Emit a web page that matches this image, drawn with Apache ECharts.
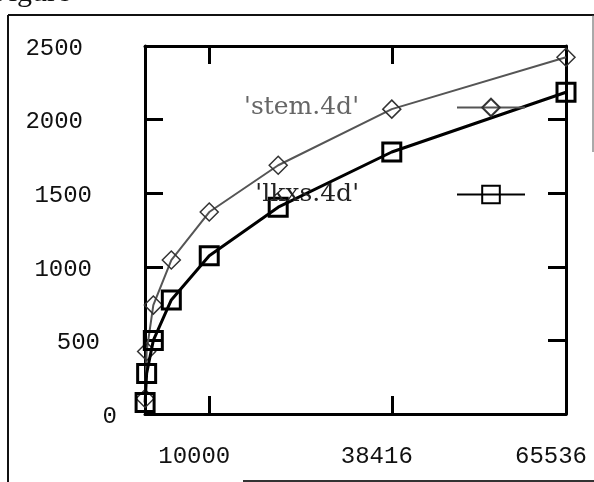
<!DOCTYPE html>
<html>
<head>
<meta charset="utf-8">
<script src="https://cdn.jsdelivr.net/npm/echarts@6/dist/echarts.min.js"></script>
<style>
  html, body { margin: 0; padding: 0; background: #fff; }
  #chart { width: 594px; height: 482px; }
</style>
</head>
<body>
<div id="chart"></div>
<script>
// problem sizes (n^4) and timings
const sizes = [16, 256, 1296, 4096, 10000, 20736, 38416, 65536];
const stemValues = [105, 425, 740, 1046, 1372, 1690, 2071, 2424];
const lkxsValues = [78, 275, 500, 775, 1075, 1405, 1780, 2186];
const xTicks = [10000, 38416, 65536];
const seriesNames = ["'stem.4d'", "'lkxs.4d'"];

// the scanned y labels are not right-aligned, shift each one by hand
const yLabelPad = { 0: 0, 500: 17, 1000: 25, 1500: 25, 2000: 34, 2500: 34 };

const chart = echarts.init(document.getElementById('chart'));

const tickFont = {
  fontFamily: 'Liberation Mono',
  fontSize: 24,
  color: '#111',
};

const rich = {};
Object.values(yLabelPad).forEach((p) => {
  rich['p' + p] = { ...tickFont, padding: [5, p, 0, 0] };
});

const frameLine = { show: true, onZero: false, lineStyle: { color: '#000', width: 3 } };
const innerTick = { show: true, inside: true, length: 18, lineStyle: { color: '#000', width: 3 } };

const legendBase = {
  right: 68,
  padding: 0,
  align: 'right',
  itemWidth: 68,
  itemHeight: 22,
  textStyle: { fontFamily: 'DejaVu Serif', fontSize: 25, padding: [0, 93, 0, 0] },
};

const option = {
  animation: false,
  backgroundColor: '#fff',
  grid: { left: 145, right: 28, top: 46, bottom: 68 },
  legend: [
    { ...legendBase, top: 95, data: [{ name: seriesNames[0], textStyle: { color: '#666' } }] },
    { ...legendBase, top: 182, data: [{ name: seriesNames[1], textStyle: { color: '#222' } }] },
  ],
  xAxis: [
    {
      type: 'value',
      min: 0,
      max: 65536,
      axisLine: frameLine,
      axisTick: { ...innerTick, customValues: xTicks },
      axisLabel: {
        ...tickFont,
        customValues: xTicks,
        margin: 31,
        padding: [0, 30, 0, 0],
        formatter: (v) => String(v),
      },
      splitLine: { show: false },
    },
    {
      type: 'value',
      position: 'top',
      min: 0,
      max: 65536,
      axisLine: frameLine,
      axisTick: { ...innerTick, customValues: xTicks },
      axisLabel: { show: false },
      splitLine: { show: false },
    },
  ],
  yAxis: [
    {
      type: 'value',
      min: 0,
      max: 2500,
      interval: 500,
      axisLine: frameLine,
      axisTick: innerTick,
      axisLabel: {
        margin: 28,
        formatter: (v) => '{p' + yLabelPad[v] + '|' + v + '}',
        rich,
      },
      splitLine: { show: false },
    },
    {
      type: 'value',
      position: 'right',
      min: 0,
      max: 2500,
      interval: 500,
      axisLine: frameLine,
      axisTick: innerTick,
      axisLabel: { show: false },
      splitLine: { show: false },
    },
  ],
  series: [
    {
      name: seriesNames[0],
      type: 'line',
      data: sizes.map((x, i) => [x, stemValues[i]]),
      symbol: 'diamond',
      symbolSize: 18,
      showAllSymbol: true,
      lineStyle: { color: '#555', width: 2 },
      itemStyle: { color: 'transparent', borderColor: '#333', borderWidth: 1.5 },
      z: 2,
    },
    {
      name: seriesNames[1],
      type: 'line',
      data: sizes.map((x, i) => [x, lkxsValues[i]]),
      symbol: 'rect',
      symbolSize: 18,
      showAllSymbol: true,
      lineStyle: { color: '#000', width: 3 },
      itemStyle: { color: 'transparent', borderColor: '#000', borderWidth: 3 },
      z: 3,
    },
  ],
  graphic: [
    {
      type: 'text',
      left: -8,
      top: -22,
      style: { text: 'Figure', font: '30px "Liberation Serif"', fill: '#111' },
    },
    { type: 'line', shape: { x1: 8, y1: 15, x2: 594, y2: 15 }, style: { stroke: '#111', lineWidth: 2 } },
    { type: 'line', shape: { x1: 8, y1: 15, x2: 8, y2: 482 }, style: { stroke: '#111', lineWidth: 2 } },
    { type: 'line', shape: { x1: 593, y1: 15, x2: 593, y2: 152 }, style: { stroke: '#555', lineWidth: 1 } },
    { type: 'line', shape: { x1: 243, y1: 481, x2: 594, y2: 481 }, style: { stroke: '#333', lineWidth: 2 } },
  ],
};

chart.setOption(option);
</script>
</body>
</html>
